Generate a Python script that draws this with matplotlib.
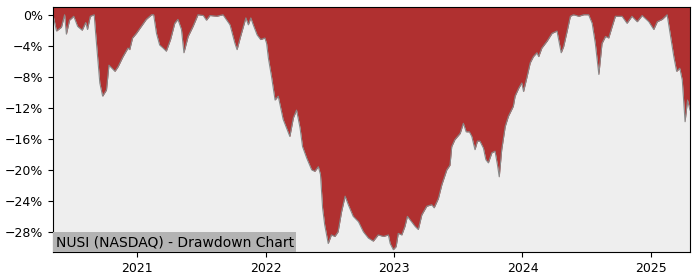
import numpy as np
import pandas as pd
import matplotlib
matplotlib.use("Agg")
import matplotlib.pyplot as plt
import matplotlib.dates as mdates
from matplotlib.ticker import MultipleLocator, PercentFormatter

# drawdown of NUSI (percent)
dates = [
    "2020-05-07", "2020-05-17", "2020-05-31", "2020-06-09", "2020-06-14", "2020-06-23",
    "2020-07-05", "2020-07-16", "2020-07-29", "2020-08-08", "2020-08-13", "2020-08-21",
    "2020-09-01", "2020-09-05", "2020-09-17", "2020-09-25", "2020-10-06", "2020-10-13",
    "2020-10-30", "2020-11-08", "2020-11-22", "2020-12-06", "2020-12-11", "2020-12-19",
    "2020-12-30", "2021-01-13", "2021-01-27", "2021-02-11", "2021-02-17", "2021-02-25",
    "2021-03-06", "2021-03-16", "2021-03-25", "2021-04-06", "2021-04-18", "2021-04-27",
    "2021-05-07", "2021-05-14", "2021-05-26", "2021-06-09", "2021-06-23", "2021-07-08",
    "2021-07-17", "2021-07-27", "2021-08-15", "2021-09-02", "2021-09-22", "2021-10-06",
    "2021-10-12", "2021-10-22", "2021-11-06", "2021-11-13", "2021-11-20", "2021-11-27",
    "2021-12-08", "2021-12-18", "2021-12-30", "2022-01-04", "2022-01-09", "2022-01-18",
    "2022-01-28", "2022-02-06", "2022-02-20", "2022-03-11", "2022-03-21", "2022-03-30",
    "2022-04-09", "2022-04-16", "2022-04-28", "2022-05-12", "2022-05-21", "2022-05-31",
    "2022-06-06", "2022-06-12", "2022-06-18", "2022-06-28", "2022-07-07", "2022-07-17",
    "2022-07-26", "2022-08-05", "2022-08-15", "2022-08-24", "2022-09-07", "2022-09-22",
    "2022-10-06", "2022-10-20", "2022-11-03", "2022-11-17", "2022-12-02", "2022-12-16",
    "2022-12-21", "2022-12-30", "2023-01-07", "2023-01-13", "2023-01-23", "2023-02-01",
    "2023-02-08", "2023-02-20", "2023-03-02", "2023-03-11", "2023-03-21", "2023-04-04",
    "2023-04-18", "2023-04-25", "2023-05-07", "2023-05-17", "2023-05-31", "2023-06-09",
    "2023-06-14", "2023-06-23", "2023-07-08", "2023-07-17", "2023-07-25", "2023-08-03",
    "2023-08-10", "2023-08-19", "2023-08-26", "2023-09-02", "2023-09-12", "2023-09-19",
    "2023-09-26", "2023-10-06", "2023-10-15", "2023-10-22", "2023-10-27", "2023-11-03",
    "2023-11-13", "2023-11-22", "2023-12-06", "2023-12-11", "2023-12-21", "2023-12-30",
    "2024-01-04", "2024-01-14", "2024-01-23", "2024-02-01", "2024-02-11", "2024-02-16",
    "2024-02-25", "2024-03-11", "2024-03-25", "2024-04-08", "2024-04-20", "2024-04-27",
    "2024-05-07", "2024-05-16", "2024-05-25", "2024-06-09", "2024-06-23", "2024-07-07",
    "2024-07-17", "2024-07-26", "2024-08-05", "2024-08-14", "2024-08-24", "2024-09-02",
    "2024-09-12", "2024-09-21", "2024-10-10", "2024-10-24", "2024-11-07", "2024-11-22",
    "2024-12-06", "2024-12-25", "2025-01-08", "2025-01-18", "2025-02-01", "2025-02-15",
    "2025-02-25", "2025-03-06", "2025-03-14", "2025-03-23", "2025-03-30", "2025-04-07",
    "2025-04-14", "2025-04-21",
]
drawdown = [
    0.0, -2.1, -1.6, 0.0, -2.5, -0.7,
    -0.2, -1.5, -2.0, -1.0, -1.9, -0.2,
    0.0, -2.3, -8.8, -10.5, -9.7, -6.5,
    -7.3, -6.7, -5.4, -4.3, -4.5, -3.0,
    -2.4, -1.5, -0.6, 0.0, 0.0, -2.4,
    -3.9, -4.3, -4.7, -3.2, -1.1, -0.6,
    -1.9, -4.9, -2.8, -1.5, 0.0, -0.1,
    -0.7, -0.1, -0.2, 0.0, -1.3, -3.7,
    -4.5, -2.8, -0.4, -1.3, -0.4, -1.3,
    -2.6, -3.2, -3.0, -3.7, -5.6, -8.0,
    -11.0, -10.5, -13.5, -15.7, -13.3, -12.3,
    -14.6, -17.0, -18.5, -20.0, -20.2, -19.6,
    -20.6, -24.9, -27.1, -29.5, -28.4, -28.6,
    -28.0, -25.4, -23.4, -24.5, -26.0, -26.7,
    -28.0, -28.8, -29.2, -28.4, -28.6, -28.4,
    -29.5, -30.3, -29.9, -28.2, -28.4, -27.3,
    -26.0, -26.7, -27.3, -27.7, -25.8, -24.7,
    -24.5, -24.9, -23.7, -21.9, -20.0, -19.4,
    -17.0, -16.1, -15.3, -14.0, -15.1, -15.1,
    -15.7, -17.4, -16.3, -16.3, -17.2, -18.7,
    -19.1, -17.8, -17.6, -19.4, -20.9, -17.4,
    -14.4, -13.1, -11.8, -10.5, -9.5, -8.8,
    -9.9, -8.0, -6.2, -5.4, -4.9, -5.4,
    -4.3, -3.4, -2.4, -2.1, -4.9, -4.1,
    -2.1, -0.2, 0.0, -0.2, 0.0, 0.0,
    -1.1, -3.7, -7.7, -3.7, -2.8, -3.0,
    -1.5, -0.2, -0.2, -1.1, -0.2, -0.9,
    -0.1, -0.9, -1.9, -0.9, -0.6, 0.0,
    -2.8, -5.4, -7.3, -6.9, -8.4, -13.8,
    -11.0, -12.3,
]

dd = pd.Series(drawdown, index=pd.to_datetime(dates))

fig = plt.figure(figsize=(7, 2.8), dpi=100)
ax = fig.add_axes([53 / 700, 28 / 280, 637 / 700, 245 / 280])
ax.set_facecolor("#eeeeee")

top = 1.0
bottom = -30.6
ax.fill_between(dd.index, dd.values, top, color="#b03030", lw=0)
ax.plot(dd.index, dd.values, color="#888888", lw=0.8)

ax.set_xlim(dd.index[0], dd.index[-1])
ax.set_ylim(bottom, top)
ax.xaxis.set_major_locator(mdates.YearLocator())
ax.xaxis.set_major_formatter(mdates.DateFormatter("%Y"))
ax.yaxis.set_major_locator(MultipleLocator(4))
ax.yaxis.set_major_formatter(PercentFormatter(decimals=0))
ax.tick_params(labelsize=9)

ax.text(0.004, 0.012, "NUSI (NASDAQ) - Drawdown Chart", transform=ax.transAxes,
        ha="left", va="bottom", fontsize=10,
        bbox=dict(facecolor="#b3b3b3", edgecolor="none", pad=2))

fig.savefig("out.png", dpi=100)
